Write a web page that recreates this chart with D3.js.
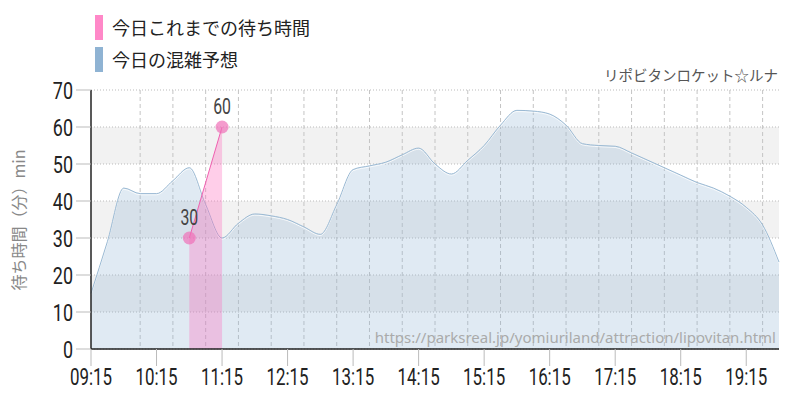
<!DOCTYPE html>
<html><head><meta charset="utf-8">
<script src="https://cdn.jsdelivr.net/npm/d3@7"></script>
<style>body{margin:0;background:#fff}svg{display:block}</style>
</head><body>
<svg id="c" width="800" height="400"></svg>
<script>
const forecastTimes = ["09:15","09:30","09:45","10:00","10:15","10:30","10:45","11:00","11:15","11:30","11:45","12:00","12:15","12:30","12:45","13:00","13:15","13:30","13:45","14:00","14:15","14:30","14:45","15:00","15:15","15:30","15:45","16:00","16:15","16:30","16:45","17:00","17:15","17:30","17:45","18:00","18:15","18:30","18:45","19:00","19:15","19:30","19:45"];
const forecastValues = [15,29,43.5,42,42,45.5,49,39,30,34,36.5,36,35,33,31,39,48.5,49.5,50.5,52.5,54.3,50,47.3,51,55,60.5,64.5,64.3,63.5,60.5,55.5,55,54.8,53,51,49,47,45,43.5,41.3,38.3,33.5,23.5];
const actualTimes = ["10:45","11:15"];
const actualValues = [30,60];
const xTickLabels = ["09:15","10:15","11:15","12:15","13:15","14:15","15:15","16:15","17:15","18:15","19:15"];
const yTicks = [0,10,20,30,40,50,60,70];
const legendLabels = ["今日これまでの待ち時間","今日の混雑予想"];
const legendColors = ["#ff88c8","#8fb3d3"];
const titleText = "リポビタンロケット☆ルナ";
const sourceText = "https://parksreal.jp/yomiuriland/attraction/lipovitan.html";
const yTitle = "待ち時間（分）min";

const parse = d3.timeParse("%H:%M");
const svg = d3.select("#c");
const L = 91, R = 779, T = 90, B = 349;
const x = d3.scaleTime().domain([parse("09:15"), parse("19:45")]).range([L, R]);
const y = d3.scaleLinear().domain([0,70]).range([B, T]);
const numFont = "Roboto,sans-serif";
const jpFont = "'Noto Sans CJK JP','Noto Sans',sans-serif";

// bands
[[50,60],[30,40],[10,20]].forEach(b=>{
  svg.append("rect").attr("x",L).attr("width",R-L).attr("y",y(b[1])).attr("height",y(b[0])-y(b[1])).attr("fill","#f2f2f2");
});
// horizontal grid
svg.append("g").selectAll("line").data(yTicks).join("line")
  .attr("x1",L).attr("x2",R).attr("y1",d=>y(d)).attr("y2",d=>y(d))
  .attr("stroke","#bbb").attr("stroke-dasharray","1,2");
// vertical grid every 30 min
const halfHours = d3.timeMinute.every(30).range(parse("09:15"), d3.timeMinute.offset(parse("19:45"),1));
svg.append("g").selectAll("line").data(halfHours.slice(1)).join("line")
  .attr("x1",d=>x(d)).attr("x2",d=>x(d)).attr("y1",T).attr("y2",B)
  .attr("stroke","#c4c4c4")
  .attr("stroke-dasharray",d=>d.getMinutes()===15?"1,2":"4,3");

// forecast area
const fData = forecastTimes.map((t,i)=>({t:parse(t),v:forecastValues[i]}));
svg.append("path").datum(fData)
  .attr("d",d3.area().x(d=>x(d.t)).y0(B).y1(d=>y(d.v)).curve(d3.curveMonotoneX))
  .attr("fill","#8fb4d4").attr("fill-opacity",0.28);
svg.append("path").datum(fData)
  .attr("d",d3.line().x(d=>x(d.t)).y(d=>y(d.v)+1.2).curve(d3.curveMonotoneX))
  .attr("fill","none").attr("stroke","#ffffff").attr("stroke-width",1).attr("stroke-opacity",0.8);
svg.append("path").datum(fData)
  .attr("d",d3.line().x(d=>x(d.t)).y(d=>y(d.v)).curve(d3.curveMonotoneX))
  .attr("fill","none").attr("stroke","#9ab9d3").attr("stroke-width",1);

// actual
const aData = actualTimes.map((t,i)=>({t:parse(t),v:actualValues[i]}));
svg.append("path").datum(aData)
  .attr("d",d3.area().x(d=>x(d.t)).y0(B).y1(d=>y(d.v)))
  .attr("fill","#ff66bb").attr("fill-opacity",0.32);
svg.append("path").datum(aData)
  .attr("d",d3.line().x(d=>x(d.t)).y(d=>y(d.v)))
  .attr("fill","none").attr("stroke","#f060b0").attr("stroke-width",1);
svg.append("g").selectAll("circle").data(aData).join("circle")
  .attr("cx",d=>x(d.t)).attr("cy",d=>y(d.v)).attr("r",6.5)
  .attr("fill","#f070b8").attr("fill-opacity",0.7);
svg.append("g").selectAll("text").data(aData).join("text")
  .attr("transform",d=>`translate(${x(d.t)},${y(d.v)-13}) scale(0.72,1)`).attr("text-anchor","middle")
  .attr("font-family",numFont).attr("font-size",22).attr("fill","#444").text(d=>d.v);

// axes lines
svg.append("line").attr("x1",L).attr("x2",L).attr("y1",T).attr("y2",B).attr("stroke","#222").attr("stroke-width",1.5);
svg.append("line").attr("x1",L).attr("x2",R).attr("y1",B).attr("y2",B).attr("stroke","#222").attr("stroke-width",1.5);

// y ticks
const yt = svg.append("g");
yt.selectAll("line").data(yTicks).join("line")
  .attr("x1",76).attr("x2",L).attr("y1",d=>y(d)).attr("y2",d=>y(d)).attr("stroke","#bbb");
yt.selectAll("text").data(yTicks).join("text")
  .attr("transform",d=>`translate(73,${y(d)+8.5}) scale(0.78,1)`).attr("text-anchor","end")
  .attr("font-family",numFont).attr("font-size",23).attr("fill","#222").text(d=>d);

// x ticks
const xt = svg.append("g");
xt.selectAll("line").data(xTickLabels).join("line")
  .attr("x1",d=>x(parse(d))).attr("x2",d=>x(parse(d))).attr("y1",B).attr("y2",B+17).attr("stroke","#bbb");
xt.selectAll("text").data(xTickLabels).join("text")
  .attr("transform",d=>`translate(${x(parse(d))},384.5) scale(0.69,1)`).attr("text-anchor","middle")
  .attr("font-family",numFont).attr("font-size",24.5).attr("fill","#222").text(d=>d);

// y title
svg.append("text").attr("transform","translate(25,220) rotate(-90)").attr("text-anchor","middle")
  .attr("font-family",jpFont).attr("font-size",16).attr("fill","#888").text(yTitle);

// legend
legendLabels.forEach((lab,i)=>{
  svg.append("rect").attr("x",95).attr("y",15+i*32).attr("width",8).attr("height",25).attr("fill",legendColors[i]);
  svg.append("text").attr("x",112).attr("y",35+i*32).attr("font-family",jpFont).attr("font-size",18).attr("fill","#222").text(lab);
});

// title top right
svg.append("text").attr("x",778).attr("y",81).attr("text-anchor","end")
  .attr("font-family",jpFont).attr("font-size",14.5).attr("fill","#555").text(titleText);
// source
svg.append("text").attr("x",776).attr("y",343).attr("text-anchor","end")
  .attr("font-family","'Noto Sans','Open Sans',sans-serif").attr("font-size",15).attr("fill","#aaa").text(sourceText);
</script>
</body></html>
